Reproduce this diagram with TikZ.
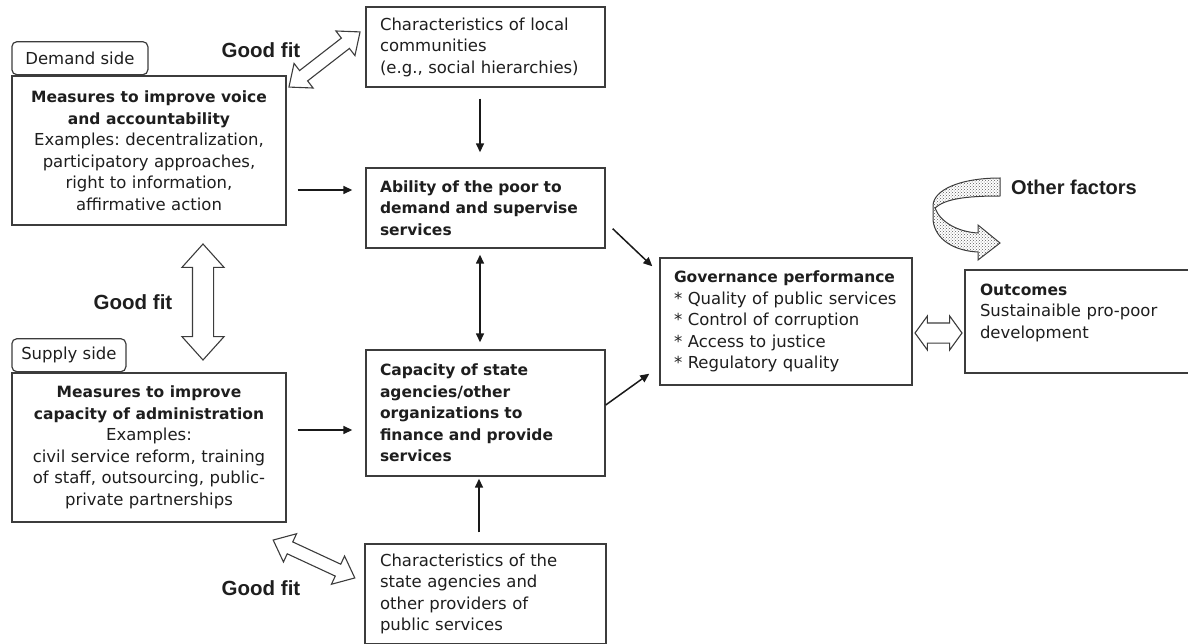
\documentclass[tikz,border=0pt]{standalone}
\usepackage{fontspec}
\setmainfont{DejaVu Sans}
\newfontfamily\fitfont{Liberation Sans}
\usetikzlibrary{arrows.meta,positioning,calc,shapes.arrows,patterns}
\definecolor{edgegray}{HTML}{3C3C3C}
\definecolor{txtgray}{HTML}{1E1E1E}
\frenchspacing
\tikzset{
  blk/.style={draw=edgegray,rectangle,line width=1.4pt,inner xsep=14pt,inner ysep=4pt,
    text=txtgray,font=\fontsize{16.5}{21.5}\selectfont},
  lblk/.style={blk,align=left},
  cblk/.style={blk,align=center},
  bblk/.style={lblk,font=\fontsize{15.5}{21.5}\selectfont\bfseries},
  tabblk/.style={draw=edgegray,rectangle,rounded corners=5pt,line width=1.2pt,
    minimum height=33pt,inner xsep=8pt,text=txtgray,font=\fontsize{16.5}{20}\selectfont},
  arr/.style={-{Triangle[length=9pt,width=8pt]},line width=1.5pt,black!90},
  darr/.style={{Triangle[length=9pt,width=8pt]}-{Triangle[length=9pt,width=8pt]},line width=1.5pt,black!90},
  fitarr/.style={double arrow,draw=edgegray,fill=white,line width=1.1pt,inner xsep=0pt},
  fitlbl/.style={text=txtgray,font=\fitfont\bfseries\fontsize{20.5}{24}\selectfont},
  ribbon/.style={draw=edgegray,line width=1pt,pattern=crosshatch dots,pattern color=black!65}
}
\newcommand{\hd}[1]{{\fontsize{15.5}{21.5}\selectfont\bfseries #1}}
\begin{document}
\begin{tikzpicture}[x=1pt,y=-1pt]
  \useasboundingbox (0,0) rectangle (1188,644);
  % Demand side
  \node[cblk, minimum width=274pt, minimum height=149pt, text width=250pt, inner xsep=12pt] (voice) at (149,150.5)
    {\hd{Measures to improve voice}\\\hd{and accountability}\\Examples: decentralization,\\participatory approaches,\\right to information,\\affirmative action};
  \node[tabblk, minimum width=136pt, above right=0pt and 0pt of voice.north west] (demtab) {Demand side};

  % Supply side
  \node[cblk, minimum width=274pt, minimum height=149pt, text width=250pt, inner xsep=12pt] (admin) at (149,447.5)
    {\hd{Measures to improve}\\\hd{capacity of administration}\\Examples:\\civil service reform, training\\of staff, outsourcing, public-\\private partnerships};
  \node[tabblk, minimum width=114pt, above right=0pt and 0pt of admin.north west] (suptab) {Supply side};

  % Middle column
  \node[lblk, minimum height=80pt, text width=211pt] (comm) at (485.5,47)
    {Characteristics of local\\communities\\(e.g., social hierarchies)};
  \node[bblk, minimum height=80pt, text width=211pt] (ability) at (485.5,208)
    {Ability of the poor to\\demand and supervise\\services};
  \node[bblk, minimum height=126pt, text width=211pt] (capacity) at (485.5,413)
    {Capacity of state\\agencies/other\\organizations to\\finance and provide\\services};
  \node[lblk, minimum height=100pt, text width=211pt, inner xsep=15pt] (state) at (485.5,594)
    {Characteristics of the\\state agencies and\\other providers of\\public services};

  % Governance and outcomes
  \node[lblk, minimum height=127pt, text width=230pt, inner xsep=11pt] (gov) at (786,321.5)
    {\hspace{3pt}\hd{Governance performance}\\\hspace{3pt}{*} Quality of public services\\\hspace{3pt}{*} Control of corruption\\\hspace{3pt}{*} Access to justice\\\hspace{3pt}{*} Regulatory quality};
  \node[lblk, minimum height=103pt, text width=200pt, inner xsep=15pt] (outc) at (1080,321.5)
    {\hd{Outcomes}\\Sustainaible pro-poor\\development\\~};

  % Good fit arrows
  \node[fitarr, minimum height=116pt, minimum width=41pt, inner ysep=10pt,
    double arrow head extend=10.5pt, double arrow tip angle=84, rotate=90] (gfmid) at (203,302) {};
  \node[fitarr, minimum height=90pt, minimum width=30pt, inner ysep=6pt,
    double arrow head extend=9pt, double arrow tip angle=80, rotate=37.8] (gftop) at (324.5,59.5) {};
  \node[fitarr, minimum height=90pt, minimum width=30pt, inner ysep=6pt,
    double arrow head extend=9pt, double arrow tip angle=80, rotate=-24.9] (gfbot) at (314,559) {};
  \node[fitarr, minimum height=47pt, minimum width=33pt, inner ysep=9.5pt,
    double arrow head extend=7pt, double arrow tip angle=108] (gfout) at (938.5,333) {};
  \node[fitlbl] (fittop) at (261,50) {Good fit};
  \node[fitlbl] (fitmid) at (133,302) {Good fit};
  \node[fitlbl] (fitbot) at (261,588) {Good fit};

  % Other factors
  \path[ribbon] (1000,178) .. controls (960,178) and (933,190) .. (933,206) -- (933,220)
    .. controls (935,240) and (955,251) .. (978,252) -- (978,260) -- (1000,243) -- (978,225) -- (978,233)
    .. controls (958,232) and (940,222) .. (935,208) .. controls (945,199) and (965,196) .. (1000,196) -- cycle;
  \node[fitlbl, font=\fitfont\bfseries\fontsize{20}{24}\selectfont] (other) at (1074,187) {Other factors};

  % Connections
  \draw[arr, shorten <=11pt, shorten >=15pt] (comm.south -| 480,0) -- (ability.north -| 480,0);
  \draw[arr, shorten <=11pt, shorten >=13pt] (voice.east |- 0,190) -- (ability.west |- 0,190);
  \draw[arr, shorten <=11pt, shorten >=13pt] (admin.east |- 0,430) -- (capacity.west |- 0,430);
  \draw[darr, shorten <=6pt, shorten >=7pt] (ability.south -| 480,0) -- (capacity.north -| 480,0);
  \draw[arr, shorten <=11pt, shorten >=2pt] (state.north -| 479,0) -- (capacity.south -| 479,0);
  \draw[arr] ($(ability.south east)+(7,-20)$) -- ($(gov.north west)+(-7,9)$);
  \draw[arr] (capacity.east |- 0,405) -- ($(gov.south west)+(-10,-12)$);
\end{tikzpicture}
\end{document}
